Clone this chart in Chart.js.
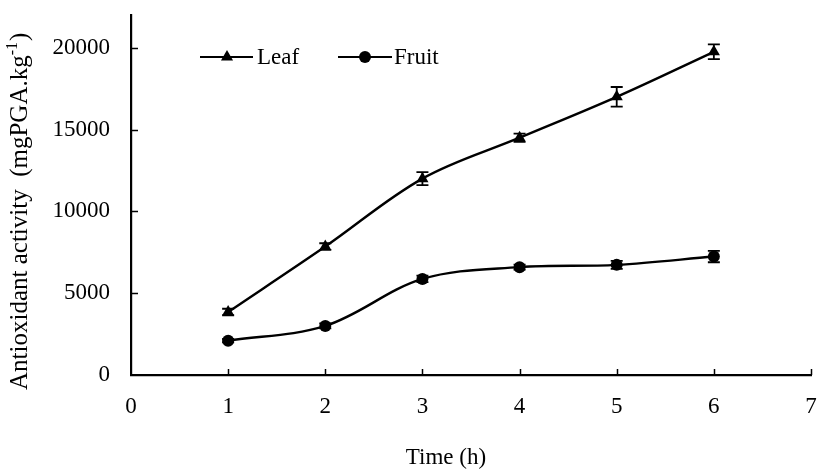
<!DOCTYPE html>
<html>
<head>
<meta charset="utf-8">
<script src="https://cdn.jsdelivr.net/npm/chart.js@4.4.1/dist/chart.umd.min.js"></script>
<style>
  html, body { margin: 0; padding: 0; background: #fff; }
  #wrap { width: 819px; height: 471px; position: relative; }
</style>
</head>
<body>
<div id="wrap"><canvas id="c" width="819" height="471"></canvas></div>
<script>
// ---- data ----
const timeHours = [1, 2, 3, 4, 5, 6];
const leafValues = [3850, 7850, 12000, 14500, 17000, 19750];
const leafErrors = [200, 200, 400, 250, 600, 450];
const fruitValues = [2100, 3000, 5870, 6590, 6730, 7240];
const fruitErrors = [100, 150, 200, 150, 250, 350];
const yTickValues = [0, 5000, 10000, 15000, 20000];
const xTickValues = [0, 1, 2, 3, 4, 5, 6, 7];
const seriesNames = ['Leaf', 'Fruit'];
const xTitle = 'Time (h)';
const yTitleMain = 'Antioxidant activity  (mgPGA.kg';
const yTitleSup = '-1';
const yTitleEnd = ')';

const FONT = '"Liberation Serif", "Times New Roman", serif';

function toPoints(values) {
  return timeHours.map((t, i) => ({ x: t, y: values[i] }));
}

function drawMarker(ctx, style, x, y, r) {
  ctx.beginPath();
  if (style === 'triangle') {
    let rad = 0;
    ctx.moveTo(x + Math.sin(rad) * r, y - Math.cos(rad) * r);
    rad += 2 * Math.PI / 3;
    ctx.lineTo(x + Math.sin(rad) * r, y - Math.cos(rad) * r);
    rad += 2 * Math.PI / 3;
    ctx.lineTo(x + Math.sin(rad) * r, y - Math.cos(rad) * r);
    ctx.closePath();
  } else {
    ctx.arc(x, y, r, 0, Math.PI * 2);
  }
  ctx.fillStyle = '#000';
  ctx.fill();
}

const errorBarPlugin = {
  id: 'errorBars',
  afterDatasetsDraw(chart) {
    const ctx = chart.ctx;
    const xs = chart.scales.x, ys = chart.scales.y;
    const errs = [leafErrors, fruitErrors];
    ctx.save();
    ctx.strokeStyle = '#000';
    ctx.lineWidth = 1.8;
    chart.data.datasets.forEach((ds, di) => {
      ds.data.forEach((p, i) => {
        const e = errs[di][i];
        const px = xs.getPixelForValue(p.x);
        const top = ys.getPixelForValue(p.y + e);
        const bot = ys.getPixelForValue(p.y - e);
        ctx.beginPath();
        ctx.moveTo(px, top); ctx.lineTo(px, bot);
        ctx.moveTo(px - 6, top); ctx.lineTo(px + 6, top);
        ctx.moveTo(px - 6, bot); ctx.lineTo(px + 6, bot);
        ctx.stroke();
      });
    });
    ctx.restore();
  }
};

const axisExtrasPlugin = {
  id: 'axisExtras',
  afterDraw(chart) {
    const ctx = chart.ctx;
    const xs = chart.scales.x, ys = chart.scales.y;
    const area = chart.chartArea;
    ctx.save();
    ctx.strokeStyle = '#000';
    ctx.lineWidth = 1.5;
    // inward ticks
    yTickValues.forEach(v => {
      if (v === 0) return;
      const py = Math.round(ys.getPixelForValue(v)) + 0.5;
      ctx.beginPath(); ctx.moveTo(area.left, py); ctx.lineTo(area.left + 7, py); ctx.stroke();
    });
    xTickValues.forEach(v => {
      if (v === 0) return;
      const px = Math.round(xs.getPixelForValue(v)) + 0.5;
      ctx.beginPath(); ctx.moveTo(px, area.bottom); ctx.lineTo(px, area.bottom - 6); ctx.stroke();
    });
    // legend
    const ly = 57;
    const items = [
      { name: seriesNames[0], style: 'triangle', r: 7, x0: 200, x1: 253, mx: 227, tx: 257 },
      { name: seriesNames[1], style: 'circle', r: 6, x0: 338, x1: 392, mx: 365, tx: 394 }
    ];
    ctx.font = '23px ' + FONT;
    ctx.textBaseline = 'middle';
    ctx.textAlign = 'left';
    items.forEach(it => {
      ctx.lineWidth = 2.2;
      ctx.beginPath(); ctx.moveTo(it.x0, ly); ctx.lineTo(it.x1, ly); ctx.stroke();
      drawMarker(ctx, it.style, it.mx, ly, it.r);
      ctx.fillStyle = '#000';
      ctx.fillText(it.name, it.tx, ly + 1);
    });
    // x title
    ctx.textAlign = 'center';
    ctx.fillText(xTitle, 446, 458);
    // y title with superscript
    ctx.textAlign = 'left';
    ctx.translate(20, 390);
    ctx.rotate(-Math.PI / 2);
    ctx.font = '25px ' + FONT;
    ctx.fillStyle = '#000';
    ctx.fillText(yTitleMain, 0, 0);
    let w = ctx.measureText(yTitleMain).width;
    ctx.font = '16px ' + FONT;
    ctx.fillText(yTitleSup, w, -7);
    w += ctx.measureText(yTitleSup).width;
    ctx.font = '25px ' + FONT;
    ctx.fillText(yTitleEnd, w + 1, 0);
    ctx.restore();
  }
};

new Chart(document.getElementById('c'), {
  type: 'line',
  data: {
    datasets: [
      {
        label: seriesNames[0],
        data: toPoints(leafValues),
        borderColor: '#000',
        backgroundColor: '#000',
        borderWidth: 2.4,
        pointStyle: 'triangle',
        pointRadius: 7,
        pointBorderWidth: 0,
        pointBackgroundColor: '#000',
        tension: 0.35
      },
      {
        label: seriesNames[1],
        data: toPoints(fruitValues),
        borderColor: '#000',
        backgroundColor: '#000',
        borderWidth: 2.4,
        pointStyle: 'circle',
        pointRadius: 6,
        pointBorderWidth: 0,
        pointBackgroundColor: '#000',
        tension: 0.35
      }
    ]
  },
  options: {
    responsive: false,
    animation: false,
    events: [],
    layout: { padding: { top: 15, right: 8, left: 0, bottom: 0 } },
    plugins: { legend: { display: false }, tooltip: { enabled: false } },
    scales: {
      x: {
        type: 'linear',
        min: 0,
        max: 7,
        grid: { display: false, drawTicks: false },
        border: { display: true, color: '#000', width: 2.2 },
        ticks: {
          stepSize: 1,
          color: '#000',
          padding: 18,
          font: { family: FONT, size: 23 },
          callback: v => String(v)
        },
        afterBuildTicks(scale) { scale.ticks = xTickValues.map(v => ({ value: v })); },
        afterFit(scale) {
          scale.height = 96;
          scale.paddingLeft = 0; scale.paddingRight = 0;
        }
      },
      y: {
        type: 'linear',
        min: 0,
        max: 22000,
        grid: { display: false, drawTicks: false },
        border: { display: true, color: '#000', width: 2.2 },
        ticks: {
          color: '#000',
          padding: 21,
          font: { family: FONT, size: 23 },
          callback: v => String(v)
        },
        afterBuildTicks(scale) { scale.ticks = yTickValues.map(v => ({ value: v })); },
        afterFit(scale) {
          scale.width = 131;
          scale.paddingTop = 0; scale.paddingBottom = 0;
        }
      }
    }
  },
  plugins: [errorBarPlugin, axisExtrasPlugin]
});
</script>
</body>
</html>
